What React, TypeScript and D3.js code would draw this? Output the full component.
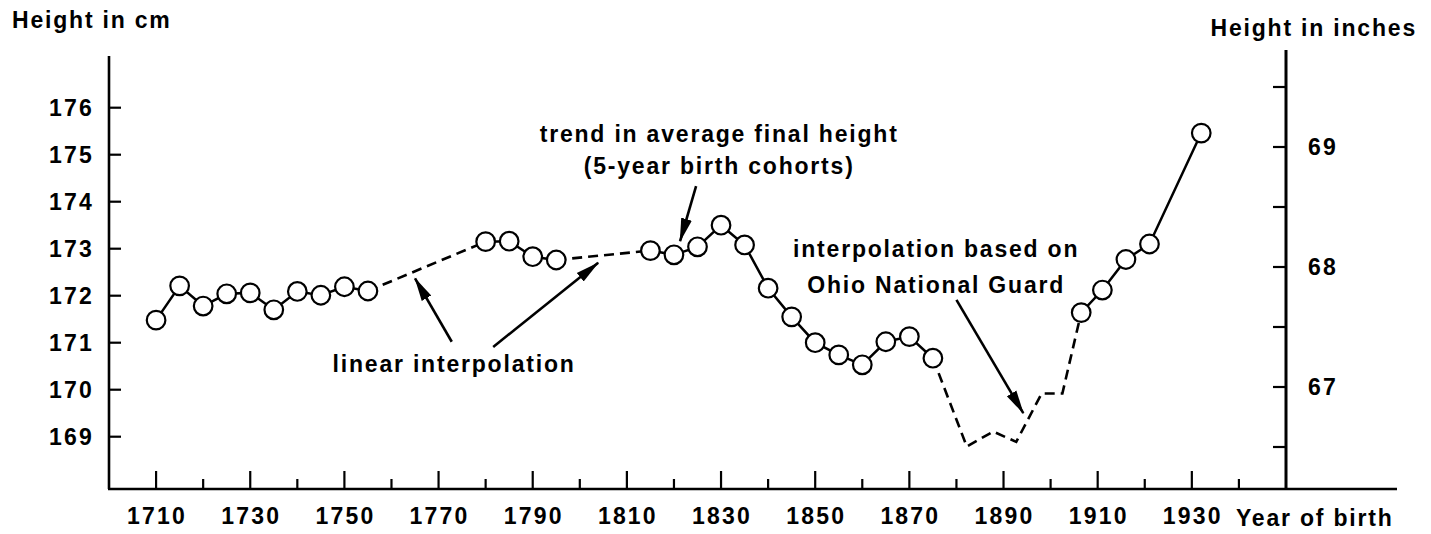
import React from 'react';
import * as d3 from 'd3';

// 5-year birth cohorts
const cohortYears = [
  1710, 1715, 1720, 1725, 1730, 1735, 1740, 1745, 1750, 1755,
  1780, 1785, 1790, 1795,
  1815, 1820, 1825, 1830, 1835, 1840, 1845, 1850, 1855, 1860, 1865, 1870, 1875,
  1906.5, 1911, 1916, 1921, 1932,
];
const cohortHeights = [
  171.48, 172.21, 171.78, 172.04, 172.06, 171.7, 172.09, 172.01, 172.19, 172.1,
  173.15, 173.16, 172.83, 172.76,
  172.96, 172.87, 173.04, 173.5, 173.08, 172.16, 171.55, 171.0, 170.74, 170.53, 171.02, 171.13, 170.67,
  171.64, 172.12, 172.77, 173.1, 175.46,
];

// linear interpolation gaps (start year, end year)
const linearGaps = [
  [1755, 1780],
  [1795, 1815],
];

// interpolation based on Ohio National Guard
const ohioYears = [1875, 1882.2, 1887.8, 1892.7, 1898.1, 1902.5, 1906.5];
const ohioHeights = [170.67, 168.79, 169.11, 168.89, 169.92, 169.92, 171.64];

const cmTicks = [169, 170, 171, 172, 173, 174, 175, 176];
const inchTicks = [66.5, 67, 67.5, 68, 68.5, 69, 69.5];
const inchLabels = [67, 68, 69];
const yearTicks = d3.range(1710, 1941, 10);
const yearLabels = d3.range(1710, 1931, 20);

const W = 1431;
const H = 534;
const FONT = '"Liberation Sans", Arial, Helvetica, sans-serif';

export default function App() {
  const x = d3.scaleLinear().domain([1700, 1950]).range([109, 1286]);
  const yCm = d3.scaleLinear().domain([169, 176]).range([436.7, 107.7]);
  const yIn = d3.scaleLinear().domain([67, 69]).range([387, 147]);

  const axisLeft = x(1700);
  const axisRight = x(1950);
  const axisBottom = 489;

  const line = d3.line<[number, number]>()
    .x(d => x(d[0]))
    .y(d => yCm(d[1]));

  const pts: [number, number][] = cohortYears.map((yr, i) => [yr, cohortHeights[i]]);

  // split measured points into solid runs wherever a stretch was interpolated
  const runs: [number, number][][] = [];
  pts.forEach((p, i) => {
    if (i === 0 || p[0] - pts[i - 1][0] > 15) runs.push([]);
    runs[runs.length - 1].push(p);
  });

  const lookup = (yr: number): [number, number] => pts.find(p => p[0] === yr)!;
  const ohio: [number, number][] = ohioYears.map((yr, i) => [yr, ohioHeights[i]]);

  const txt = {
    fontFamily: FONT,
    fontWeight: 700,
    fontSize: 23,
    letterSpacing: 1.8,
    fill: '#000',
  } as React.CSSProperties;
  const num = { ...txt, letterSpacing: 2.2 } as React.CSSProperties;

  // annotation arrows in data space: [tailYear, tailCm, tipYear, tipCm]
  const arrows = [
    [1772.8, 171.02, 1765.0, 172.37],
    [1781.6, 170.91, 1803.9, 172.7],
    [1824.7, 174.33, 1821.3, 173.16],
    [1880.0, 171.91, 1894.2, 169.5],
  ];

  return (
    <svg width={W} height={H} style={{ position: 'absolute', left: 0, top: 0, background: '#fff' }}>
      <defs>
        <marker id="head" viewBox="0 0 24 12" refX="23" refY="6" markerWidth="24" markerHeight="12"
          markerUnits="userSpaceOnUse" orient="auto">
          <path d="M0,0.5 L24,6 L0,11.5 Z" fill="#000" />
        </marker>
      </defs>

      {/* axes */}
      <line x1={axisLeft} x2={axisLeft} y1={56} y2={axisBottom} stroke="#000" strokeWidth={2.6} />
      <line x1={axisRight} x2={axisRight} y1={50} y2={axisBottom} stroke="#000" strokeWidth={3} />
      <line x1={axisLeft - 1} x2={1397} y1={axisBottom} y2={axisBottom} stroke="#000" strokeWidth={2.6} />

      {cmTicks.map(t => (
        <g key={'c' + t}>
          <line x1={axisLeft} x2={axisLeft + 12} y1={yCm(t)} y2={yCm(t)} stroke="#000" strokeWidth={2.2} />
          <text x={94} y={yCm(t)} dy="0.36em" textAnchor="end" style={num}>{t}</text>
        </g>
      ))}

      {inchTicks.map(t => (
        <line key={'i' + t} x1={axisRight - 13} x2={axisRight} y1={yIn(t)} y2={yIn(t)} stroke="#000" strokeWidth={2.2} />
      ))}
      {inchLabels.map(t => (
        <text key={'il' + t} x={1308} y={yIn(t)} dy="0.36em" style={num}>{t}</text>
      ))}

      {yearTicks.map(t => {
        const major = (t - 1710) % 20 === 0;
        return (
          <line key={'y' + t} x1={x(t)} x2={x(t)} y1={axisBottom} y2={axisBottom - (major ? 18 : 10)}
            stroke="#000" strokeWidth={2.2} />
        );
      })}
      {yearLabels.map(t => (
        <text key={'yl' + t} x={x(t) + 1} y={524} textAnchor="middle" style={num}>{t}</text>
      ))}

      <text x={1236} y={526} style={txt}>Year of birth</text>
      <text x={12} y={28} style={txt}>Height in cm</text>
      <text x={1417} y={36} textAnchor="end" style={txt}>Height in inches</text>

      {/* interpolated stretches */}
      {linearGaps.map(([a, b]) => (
        <path key={'g' + a} d={line([lookup(a), lookup(b)])!} fill="none" stroke="#000"
          strokeWidth={2.6} strokeDasharray="10 6" />
      ))}
      <path d={line(ohio)!} fill="none" stroke="#000" strokeWidth={2.6} strokeDasharray="10 6" />

      {/* measured series */}
      {runs.map((r, i) => (
        <path key={'r' + i} d={line(r)!} fill="none" stroke="#000" strokeWidth={2.5} />
      ))}
      {pts.map(p => (
        <circle key={'p' + p[0]} cx={x(p[0])} cy={yCm(p[1])} r={9.3} fill="#fff" stroke="#000" strokeWidth={2.2} />
      ))}

      {/* annotations */}
      {arrows.map((a, i) => (
        <line key={'a' + i} x1={x(a[0])} y1={yCm(a[1])} x2={x(a[2])} y2={yCm(a[3])}
          stroke="#000" strokeWidth={2.6} markerEnd="url(#head)" />
      ))}
      <text x={x(1773.3)} y={yCm(170.38)} textAnchor="middle" style={txt}>linear interpolation</text>
      <text x={x(1829.6)} y={yCm(175.27)} textAnchor="middle" style={txt}>trend in average final height</text>
      <text x={x(1829.6)} y={yCm(174.59)} textAnchor="middle" style={txt}>(5-year birth cohorts)</text>
      <text x={x(1875.7)} y={yCm(172.82)} textAnchor="middle" style={txt}>interpolation based on</text>
      <text x={x(1875.7)} y={yCm(172.05)} textAnchor="middle" style={txt}>Ohio National Guard</text>
    </svg>
  );
}
